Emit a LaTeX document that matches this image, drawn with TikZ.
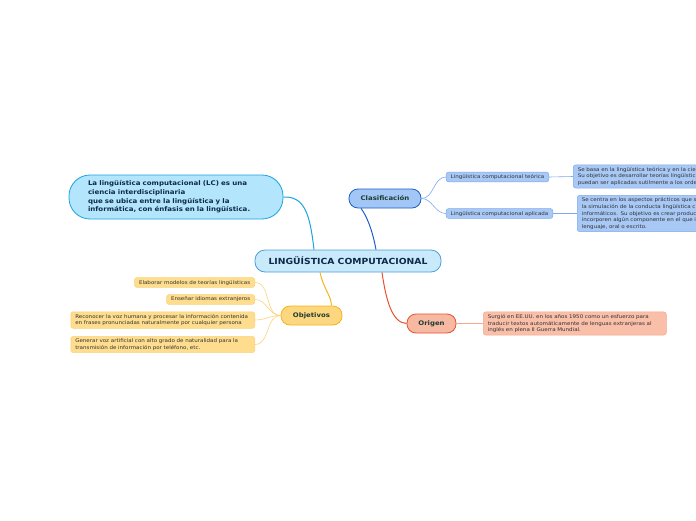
\documentclass[tikz,border=0pt]{standalone}
\usepackage{fontspec}
\setmainfont{DejaVu Sans}[FakeStretch=1.1]
\usetikzlibrary{positioning}
\definecolor{MainFill}{HTML}{C8EAFB}
\definecolor{MainBorder}{HTML}{4C9FD8}
\definecolor{NavyText}{HTML}{0E2A47}
\definecolor{LeafText}{HTML}{1E3B30}
\definecolor{IntroFill}{HTML}{B3E5FC}
\definecolor{IntroLine}{HTML}{1BA3DE}
\definecolor{ClasFill}{HTML}{A2C6F6}
\definecolor{ClasLine}{HTML}{1F5EC6}
\definecolor{ClasSub}{HTML}{A8C8F5}
\definecolor{ClasSubLine}{HTML}{80A9EA}
\definecolor{ObjFill}{HTML}{FDD77F}
\definecolor{ObjLine}{HTML}{F3B518}
\definecolor{ObjSub}{HTML}{FEDD8E}
\definecolor{ObjSubLine}{HTML}{F9D47A}
\definecolor{OriFill}{HTML}{F8B9A3}
\definecolor{OriLine}{HTML}{E5522C}
\definecolor{OriSub}{HTML}{F9BFA9}
\definecolor{OriSubLine}{HTML}{F6A88E}

\begin{document}
\begin{tikzpicture}[x=1pt, y=-1pt,
    mainbox/.style={draw=MainBorder, fill=MainFill, line width=0.8pt, rounded corners=10pt,
      minimum width=186pt, minimum height=22pt, text=NavyText,
      font=\fontsize{8.4}{10}\selectfont\bfseries},
    topicbox/.style={line width=0.8pt, rounded corners=9pt, minimum height=19pt,
      text=LeafText, font=\fontsize{6.3}{8}\selectfont\bfseries},
    leafbox/.style={line width=0.5pt, rounded corners=2.5pt, inner xsep=4.5pt, inner ysep=2.4pt,
      text=black!80, align=left, font=\fontsize{5.05}{6.6}\selectfont},
    link/.style={line width=1pt},
    twig/.style={line width=0.6pt}
  ]
  \useasboundingbox (0,0) rectangle (696,520);

  % Central topic
  \node[mainbox] (lc) at (348,261) {LINGÜÍSTICA COMPUTACIONAL};

  % Definition
  \node[draw=IntroLine, fill=IntroFill, line width=0.8pt, rounded corners=21pt,
    minimum width=214pt, minimum height=44pt, text width=176pt, align=left,
    text=NavyText, font=\fontsize{6.4}{8.6}\selectfont\bfseries] (intro) at (176,197)
    {La lingüística computacional (LC) es una\\ciencia interdisciplinaria\\que se ubica entre la lingüística y la\\informática, con énfasis en la lingüística.};
  \draw[link, IntroLine] ([xshift=-34pt]lc.north) .. controls (310,215) and (305,196) .. (intro.east);

  % Clasificacion
  \node[topicbox, draw=ClasLine, fill=ClasFill, minimum width=72pt] (clas) at (385,198.5) {Clasificación};
  \draw[link, ClasLine] ([xshift=28pt]lc.north) .. controls (372,228) and (366,215) .. ([xshift=-24pt]clas.south);

  \node[leafbox, draw=ClasSubLine, fill=ClasSub] (teo) at (497.5,177) {Lingüística computacional teórica};
  \node[leafbox, draw=ClasSubLine, fill=ClasSub] (apl) at (499.5,213.5) {Lingüística computacional aplicada};
  \draw[twig, ClasSubLine] (clas.east) to[out=0, in=180] (teo.west);
  \draw[twig, ClasSubLine] (clas.east) to[out=0, in=180] (apl.west);

  \node[leafbox, draw=ClasSubLine, fill=ClasSub, anchor=west, text width=140pt] (teodesc) at (573,176.5)
    {Se basa en la lingüística teórica y en la cie\\Su objetivo es desarrollar teorías lingüístic\\puedan ser aplicadas sutilmente a los orde};
  \node[leafbox, draw=ClasSubLine, fill=ClasSub, anchor=west, text width=140pt] (apldesc) at (577,213.5)
    {Se centra en los aspectos prácticos que s\\la simulación de la conducta lingüística c\\informáticos. Su objetivo es crear produc\\incorporen algún componente en el que i\\lenguaje, oral o escrito.};
  \draw[twig, ClasSubLine] (teo.east) -- (teodesc.west);
  \draw[twig, ClasSubLine] (apl.east) -- (apldesc.west);

  % Objetivos
  \node[topicbox, draw=ObjLine, fill=ObjFill, minimum width=61pt] (obj) at (311.5,315.5) {Objetivos};
  \draw[link, ObjLine] ([xshift=-28pt]lc.south) .. controls (324,290) and (331,295) .. ([xshift=20pt]obj.north);

  \node[leafbox, draw=ObjSubLine, fill=ObjSub, anchor=east] (obj1) at (255,282.5) {Elaborar modelos de teorías lingüísticas};
  \node[leafbox, draw=ObjSubLine, fill=ObjSub, anchor=east] (obj2) at (255,299.5) {Enseñar idiomas extranjeros};
  \node[leafbox, draw=ObjSubLine, fill=ObjSub, anchor=east, text width=175pt] (obj3) at (255,320)
    {Reconocer la voz humana y procesar la información contenida\\en frases pronunciadas naturalmente por cualquier persona};
  \node[leafbox, draw=ObjSubLine, fill=ObjSub, anchor=east, text width=175pt] (obj4) at (255,344.5)
    {Generar voz artificial con alto grado de naturalidad para la\\transmisión de información por teléfono, etc.};
  \foreach \leaf in {obj1,obj2,obj3,obj4}
    \draw[twig, ObjSubLine] (obj.west) to[out=180, in=0] (\leaf.east);

  % Origen
  \node[topicbox, draw=OriLine, fill=OriFill, minimum width=49pt] (ori) at (431.5,323.5) {Origen};
  \draw[link, OriLine] ([xshift=34pt]lc.south) .. controls (386,300) and (392,323) .. (ori.west);

  \node[leafbox, draw=OriSubLine, fill=OriSub, anchor=west, text width=174pt] (oridesc) at (483,323.5)
    {Surgió en EE.UU. en los años 1950 como un esfuerzo para\\traducir textos automáticamente de lenguas extranjeras al\\inglés en plena II Guerra Mundial.};
  \draw[twig, OriSubLine] (ori.east) -- (oridesc.west);
\end{tikzpicture}
\end{document}
